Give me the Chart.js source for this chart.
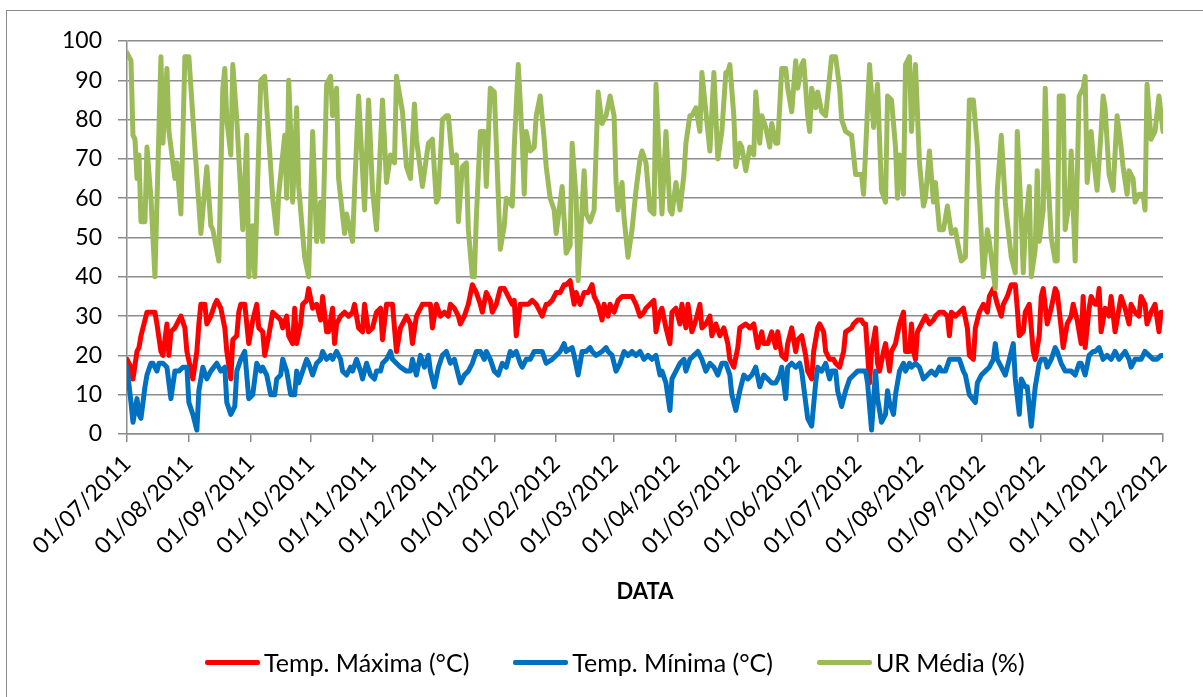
<!DOCTYPE html>
<html>
<head>
<meta charset="utf-8">
<script src="https://cdn.jsdelivr.net/npm/chart.js@4/dist/chart.umd.min.js"></script>
<style>
  html, body { margin: 0; padding: 0; background: #fff; }
  #wrap { position: relative; width: 1203px; height: 697px; overflow: hidden; background: #fff; }
  #frame { position: absolute; left: 6px; top: 10px; width: 1300px; height: 800px; border-left: 1px solid #8a8a8a; border-top: 1px solid #8a8a8a; }
  #c { position: absolute; left: 0; top: 0; }
  #legend { position: absolute; left: 205px; top: 647px; height: 30px; display: flex; align-items: center; font-family: Lato, "Open Sans", sans-serif; font-size: 25px; color: #000; white-space: nowrap; }
  .item { display: flex; align-items: center; margin-right: 44px; }
  .swatch { width: 55px; height: 5px; border-radius: 2px; margin-right: 4px; }
</style>
</head>
<body>
<div id="wrap">
  <div id="frame"></div>
  <canvas id="c" width="1203" height="697"></canvas>
  <div id="legend"></div>
</div>
<script>
// Month tick positions (days since 01/07/2011) and their labels
const monthDays = [0, 31, 62, 92, 123, 153, 184, 215, 244, 275, 305, 336, 366, 397, 428, 458, 489, 519];
const monthLabels = ['01/07/2011','01/08/2011','01/09/2011','01/10/2011','01/11/2011','01/12/2011',
  '01/01/2012','01/02/2012','01/03/2012','01/04/2012','01/05/2012','01/06/2012',
  '01/07/2012','01/08/2012','01/09/2012','01/10/2012','01/11/2012','01/12/2012'];
const seriesNames = ['Temp. Máxima (°C)', 'Temp. Mínima (°C)', 'UR Média (%)'];
const yTicks = [0, 10, 20, 30, 40, 50, 60, 70, 80, 90, 100];

// Temp. Máxima (°C): day offset / value
const tmaxDays = [0,2,3,5,6,7,9,10,12,14,15,17,18,20,21,22,24,25,27,29,30,33,35,36,37,39,40,42,44,45,47,49,50,52,53,55,56,57,59,61,63,65,66,68,69,71,73,75,77,78,80,81,83,84,85,87,88,90,91,93,95,97,98,100,101,103,104,105,107,109,111,113,114,116,118,119,121,123,125,127,128,130,132,133,135,137,139,140,142,143,145,148,150,152,153,155,157,159,161,162,164,166,167,169,171,173,175,177,178,180,182,183,185,186,187,189,191,193,194,195,197,199,201,203,205,206,208,210,211,213,215,217,219,220,222,224,225,227,229,231,233,234,236,238,239,241,242,244,246,248,249,251,253,255,257,259,260,262,264,265,267,268,270,272,273,275,277,278,280,281,283,285,287,288,290,292,293,295,297,299,301,302,304,306,307,310,312,314,316,318,319,321,323,325,326,328,330,331,333,335,336,338,340,341,343,344,346,347,349,350,352,354,355,357,359,360,363,364,366,368,369,370,372,373,375,376,377,379,380,382,383,385,387,389,390,392,393,394,395,396,398,400,402,404,405,407,409,411,412,413,415,417,419,421,422,424,425,427,429,431,432,434,435,436,438,439,441,443,445,446,447,449,450,452,453,454,455,457,458,459,461,463,465,466,468,469,471,473,474,476,478,479,480,482,483,485,486,487,488,490,492,493,495,497,498,500,502,503,505,507,508,510,511,513,515,517,518,519];
const tmaxValues = [19,17,14,21,22,25,29,31,31,31,28,21,20,28,20,26,27,28,30,27,21,14,21,28,33,33,28,30,33,34,32,27,21,14,24,25,31,33,33,23,29,33,27,26,20,25,31,30,29,27,30,25,23,32,23,28,33,34,37,32,33,29,35,26,26,32,23,28,30,31,30,31,33,27,26,33,26,27,31,32,24,33,33,33,21,27,29,30,28,23,30,33,33,33,27,33,30,31,30,33,32,30,28,30,33,38,36,33,31,36,34,31,33,35,37,37,35,33,34,25,33,33,33,34,33,32,30,33,33,34,36,36,38,38,39,33,36,33,36,36,38,35,33,29,33,30,33,31,34,35,35,35,35,33,30,31,32,33,34,26,31,32,27,23,31,32,28,33,27,33,26,29,33,27,28,30,25,28,25,27,23,19,17,22,27,28,27,28,22,26,23,23,26,22,26,20,19,23,27,21,24,25,20,16,14,21,27,28,26,21,19,19,18,17,21,26,27,28,29,29,28,28,13,21,27,18,16,21,23,16,21,23,28,31,21,21,28,21,19,26,28,30,28,29,30,31,31,30,25,31,30,31,32,27,20,19,27,31,33,31,35,37,35,33,30,33,35,38,38,32,25,26,31,33,27,21,19,25,35,37,28,32,37,36,27,22,28,30,33,29,23,35,22,32,35,33,33,37,26,32,30,35,26,32,35,32,28,33,31,30,35,33,28,31,33,26,31,31];

// Temp. Mínima (°C): day offset / value
const tminDays = [0,2,3,5,6,7,9,10,12,13,15,16,18,20,22,24,26,28,30,31,33,35,36,38,40,42,45,47,49,50,52,54,55,57,59,61,63,65,67,68,70,72,74,75,77,78,80,82,84,85,86,88,90,91,93,95,97,98,100,102,103,105,107,108,110,112,113,115,117,118,120,122,124,125,127,128,130,132,133,135,137,140,142,143,145,147,149,151,152,154,156,158,160,162,164,165,167,169,171,173,175,177,179,180,182,184,186,188,190,192,193,195,197,198,200,202,204,206,208,210,213,215,217,219,220,223,224,226,228,230,232,233,235,238,240,241,243,245,247,249,251,253,255,257,259,261,263,265,267,268,270,272,273,275,277,279,280,282,284,286,288,290,292,294,296,298,300,302,303,305,307,309,311,313,315,317,319,321,323,325,327,328,330,331,333,335,337,338,340,341,343,345,346,348,350,352,353,355,356,358,360,362,364,366,368,370,371,373,375,376,378,380,381,382,384,385,387,389,390,392,393,395,397,399,401,403,405,407,408,410,412,414,415,417,419,420,422,425,426,428,430,432,434,435,436,438,440,442,444,445,447,448,450,451,453,455,457,458,460,461,463,465,466,468,470,471,473,475,477,478,480,482,484,485,487,489,491,493,495,497,500,502,503,505,507,508,510,512,514,516,518,519];
const tminValues = [17,8,3,9,5,4,12,15,18,18,16,18,18,17,9,16,16,17,17,8,5,1,11,17,14,16,18,16,17,8,5,7,16,19,21,9,10,18,16,17,15,10,10,14,15,19,16,10,10,16,13,16,19,18,15,18,19,21,19,20,19,21,19,16,15,17,16,19,16,14,18,15,14,16,16,18,19,21,19,18,17,16,16,19,15,20,17,20,16,12,17,20,21,18,19,17,13,15,16,18,21,21,19,21,19,16,15,18,17,21,20,21,18,17,19,19,21,21,21,18,19,20,21,23,21,22,20,15,21,21,22,21,20,21,22,21,20,16,18,21,20,21,20,21,19,20,19,20,15,16,13,6,14,16,18,19,16,19,20,21,19,16,18,17,15,18,18,15,10,6,11,15,14,15,17,12,15,14,13,13,15,17,9,17,18,17,18,16,8,4,2,13,17,16,18,14,16,16,11,7,11,14,15,16,16,16,13,1,16,9,3,5,11,8,5,10,16,18,16,18,17,18,17,14,15,16,15,17,16,16,19,19,19,19,16,15,10,8,13,15,16,17,19,23,19,17,15,19,23,14,5,14,12,12,2,12,18,19,19,17,19,22,21,18,16,16,16,15,18,18,15,20,21,21,22,19,20,19,21,19,21,19,17,19,19,19,21,20,19,19,20,20];

// UR Média (%): day offset / value
const urDays = [0,2,3,4,5,6,7,9,10,12,14,17,18,20,21,24,25,27,29,31,34,37,40,42,43,46,48,49,50,52,53,55,58,60,61,63,64,67,69,70,73,75,76,79,80,81,82,83,85,86,89,91,93,95,97,98,100,102,103,105,106,109,110,113,114,116,118,119,121,123,125,128,130,132,134,135,138,140,142,144,145,148,151,153,155,156,158,160,161,163,165,166,168,170,171,173,174,175,177,179,180,182,184,185,187,189,190,193,194,196,198,199,200,202,204,205,207,209,210,212,214,215,218,220,222,223,225,226,229,230,232,234,236,238,240,242,244,245,246,248,249,251,253,255,257,258,260,262,264,265,267,268,270,272,273,275,277,279,280,282,283,285,287,288,290,292,294,296,298,300,301,302,304,305,307,308,310,312,314,315,317,318,320,322,323,325,326,328,330,331,333,335,336,338,339,341,342,343,345,346,348,350,351,353,355,357,358,360,363,365,366,368,369,371,372,374,376,377,378,380,381,383,385,386,387,389,390,391,392,393,395,397,399,400,402,404,405,407,409,411,413,415,416,418,420,422,424,426,427,429,431,432,435,436,438,440,441,443,445,446,448,449,450,452,453,455,456,457,459,460,461,463,465,466,467,469,470,472,473,475,477,479,480,481,483,484,486,488,489,490,492,494,496,498,499,501,502,504,505,507,509,510,511,513,515,517,519];
const urValues = [97,95,76,75,65,71,54,54,73,60,40,96,74,93,77,65,69,56,96,96,73,51,68,53,52,44,88,93,80,71,94,80,52,76,40,53,40,90,91,83,60,51,61,76,60,90,77,59,83,63,45,40,77,49,59,49,89,91,81,88,65,51,56,49,62,86,67,57,85,62,52,85,64,71,69,91,82,68,65,84,75,63,74,75,59,60,80,81,81,69,71,54,68,69,52,40,40,55,77,77,63,88,87,74,47,53,60,58,73,94,75,61,77,72,73,81,86,75,68,60,57,51,63,46,48,74,60,39,67,56,54,57,87,79,81,86,81,64,57,64,55,45,52,62,70,72,69,57,56,89,66,56,77,57,56,64,57,66,74,81,81,83,77,92,82,72,92,70,77,92,92,94,81,68,74,73,67,73,71,87,74,81,78,73,79,74,74,93,93,88,82,95,88,94,95,81,77,88,83,87,82,81,86,96,96,88,80,77,76,66,66,66,61,83,94,78,89,75,62,59,86,85,73,60,71,61,94,95,96,77,94,69,58,60,72,59,64,52,52,58,51,52,49,44,45,85,85,73,61,40,52,49,37,62,76,59,54,45,41,77,55,41,52,63,40,47,67,49,57,88,69,50,44,44,86,86,52,59,72,44,86,88,91,64,77,71,62,77,86,83,66,62,81,73,68,61,67,65,59,61,61,57,89,75,77,86,77];

function toPoints(days, values) { return days.map((d, i) => ({ x: d, y: values[i] })); }

const colors = ['#FF0000', '#0070C0', '#9BBB59'];
const FONT = 'Lato, "Open Sans", sans-serif';
const gridGray = '#8c8c8c';

const datasets = [
  { label: seriesNames[0], data: toPoints(tmaxDays, tmaxValues), borderColor: colors[0] },
  { label: seriesNames[1], data: toPoints(tminDays, tminValues), borderColor: colors[1] },
  { label: seriesNames[2], data: toPoints(urDays, urValues), borderColor: colors[2] }
].map((d, i) => Object.assign(d, {
  backgroundColor: d.borderColor, borderWidth: 5, pointRadius: 0, pointHoverRadius: 0,
  tension: 0, fill: false, borderJoinStyle: 'round', borderCapStyle: 'round', order: 2 - i
}));

new Chart(document.getElementById('c'), {
  type: 'line',
  data: { datasets },
  options: {
    responsive: false,
    devicePixelRatio: 1,
    animation: false,
    events: [],
    layout: { padding: { top: 41, right: 40, bottom: 77, left: 0 } },
    plugins: { legend: { display: false }, tooltip: { enabled: false } },
    scales: {
      x: {
        type: 'linear', min: 0, max: 519,
        afterBuildTicks: (s) => { s.ticks = monthDays.map(v => ({ value: v })); },
        afterFit: (s) => { s.height = 186; },
        ticks: {
          autoSkip: false, maxRotation: 45, minRotation: 45, padding: 8,
          color: '#000', font: { family: FONT, size: 23 },
          callback: (v) => { const k = monthDays.indexOf(v); return k >= 0 ? monthLabels[k] : ''; }
        },
        grid: { drawOnChartArea: false, drawTicks: true, tickLength: 8, color: gridGray, lineWidth: 1.5 },
        border: { display: true, color: gridGray, width: 1.5 },
        title: { display: true, text: 'DATA', color: '#000', font: { family: FONT, size: 22, weight: 'bold' }, padding: { top: 0, bottom: 15 } }
      },
      y: {
        min: 0, max: 100,
        afterBuildTicks: (s) => { s.ticks = yTicks.map(v => ({ value: v })); },
        afterFit: (s) => { s.width = 127; },
        ticks: { color: '#000', font: { family: FONT, size: 23 }, padding: 16 },
        grid: { color: gridGray, lineWidth: 1.5, tickLength: 9, drawTicks: true },
        border: { display: true, color: gridGray, width: 1.5 }
      }
    }
  }
});

// Legend (real text), built from the series names and colours
const lg = document.getElementById('legend');
seriesNames.forEach((name, i) => {
  const it = document.createElement('div'); it.className = 'item';
  const sw = document.createElement('div'); sw.className = 'swatch'; sw.style.background = colors[i];
  const tx = document.createElement('span'); tx.textContent = name;
  it.appendChild(sw); it.appendChild(tx); lg.appendChild(it);
});
</script>
</body>
</html>
